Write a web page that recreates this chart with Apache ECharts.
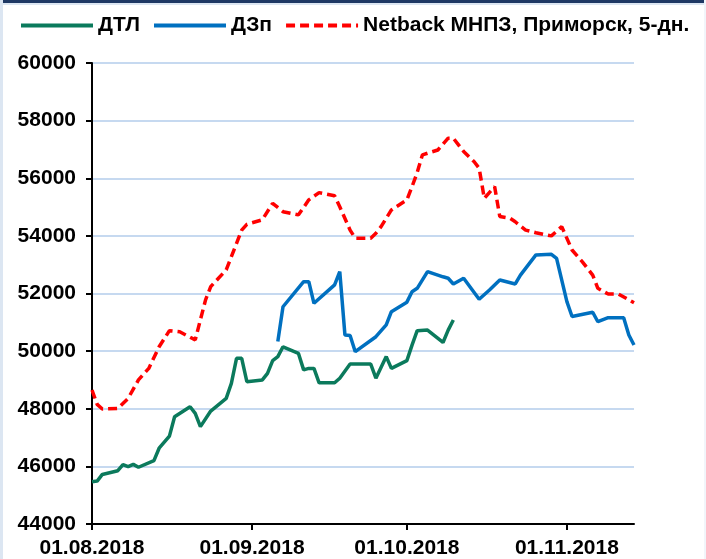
<!DOCTYPE html>
<html>
<head>
<meta charset="utf-8">
<script src="https://cdn.jsdelivr.net/npm/echarts@6/dist/echarts.min.js"></script>
<style>
  html, body { margin: 0; padding: 0; background: #fff; }
  #wrap { position: relative; width: 706px; height: 559px; overflow: hidden; }
  #chart { position: absolute; left: 0; top: 0; width: 706px; height: 559px; }
  .b { position: absolute; pointer-events: none; }
</style>
</head>
<body>
<div id="wrap">
  <div id="chart"></div>
  <div class="b" style="left:0;top:0;width:706px;height:3px;background:#1F3864;"></div>
  <div class="b" style="left:0;top:3px;width:706px;height:2px;background:#DCE6F2;"></div>
  <div class="b" style="left:0;top:0;width:3px;height:559px;background:#DCE6F2;"></div>
  <div class="b" style="left:704px;top:0;width:2px;height:559px;background:#F2F5FA;"></div>
</div>
<script>
// Series names
const seriesNames = ['ДТЛ', 'ДЗп', 'Netback МНПЗ, Приморск, 5-дн.'];

// Y axis ticks
const yTicks = [44000, 46000, 48000, 50000, 52000, 54000, 56000, 58000, 60000];

// Date range of the category axis
const startDate = '01.08.2018';
const endDate = '14.11.2018';

// ДТЛ
const dtlDates = ['01.08.2018','02.08.2018','03.08.2018','06.08.2018','07.08.2018','08.08.2018','09.08.2018','10.08.2018',
  '13.08.2018','14.08.2018','16.08.2018','17.08.2018','20.08.2018','21.08.2018','22.08.2018','24.08.2018',
  '27.08.2018','28.08.2018','29.08.2018','30.08.2018','31.08.2018','03.09.2018','04.09.2018','05.09.2018',
  '06.09.2018','07.09.2018','10.09.2018','11.09.2018','12.09.2018','13.09.2018','14.09.2018','17.09.2018',
  '18.09.2018','20.09.2018','24.09.2018','25.09.2018','27.09.2018','28.09.2018','01.10.2018','02.10.2018',
  '03.10.2018','05.10.2018','08.10.2018','09.10.2018','10.10.2018'];
const dtlValues = [45470,45490,45720,45850,46060,45990,46070,45970,
  46200,46630,47050,47720,48070,47840,47380,47920,
  48360,48880,49750,49750,48940,49000,49230,49670,
  49810,50150,49920,49350,49400,49400,48900,48900,
  49060,49550,49550,49060,49810,49400,49670,50210,
  50710,50730,50300,50730,51080];

// ДЗп
const dzpDates = ['06.09.2018','07.09.2018','11.09.2018','12.09.2018','13.09.2018','17.09.2018','18.09.2018','19.09.2018',
  '20.09.2018','21.09.2018','25.09.2018','27.09.2018','28.09.2018','01.10.2018','02.10.2018','03.10.2018',
  '05.10.2018','08.10.2018','09.10.2018','10.10.2018','12.10.2018','15.10.2018','17.10.2018','19.10.2018',
  '22.10.2018','23.10.2018','26.10.2018','29.10.2018','30.10.2018','01.11.2018','02.11.2018','06.11.2018',
  '07.11.2018','09.11.2018','12.11.2018','13.11.2018','14.11.2018'];
const dzpValues = [50330,51540,52410,52410,51660,52300,52760,50560,
  50540,49980,50500,50910,51370,51700,52060,52180,
  52760,52580,52530,52330,52530,51800,52120,52470,
  52330,52640,53340,53360,53220,51720,51200,51350,
  51020,51160,51160,50560,50210];

// Netback МНПЗ, Приморск, 5-дн.
const netDates = ['01.08.2018','02.08.2018','03.08.2018','06.08.2018','08.08.2018','10.08.2018','12.08.2018','14.08.2018',
  '16.08.2018','18.08.2018','21.08.2018','23.08.2018','24.08.2018','27.08.2018','30.08.2018','31.08.2018',
  '03.09.2018','05.09.2018','07.09.2018','10.09.2018','12.09.2018','14.09.2018','17.09.2018','18.09.2018',
  '20.09.2018','21.09.2018','24.09.2018','25.09.2018','26.09.2018','28.09.2018','01.10.2018','02.10.2018',
  '03.10.2018','04.10.2018','07.10.2018','09.10.2018','10.10.2018','12.10.2018','14.10.2018','15.10.2018',
  '16.10.2018','18.10.2018','19.10.2018','21.10.2018','22.10.2018','24.10.2018','26.10.2018','29.10.2018',
  '31.10.2018','02.11.2018','04.11.2018','06.11.2018','07.11.2018','09.11.2018','11.11.2018','14.11.2018'];
const netValues = [48650,48150,47990,48010,48360,49000,49400,50150,
  50710,50670,50390,51780,52240,52820,54200,54400,
  54560,55130,54840,54730,55250,55500,55390,55010,
  54200,53920,53920,54090,54320,54900,55250,55710,
  56200,56810,56980,57390,57390,56930,56580,56350,
  55300,55710,54670,54610,54490,54200,54110,54000,
  54320,53510,53100,52640,52180,51980,51980,51680];

function parseD(s) { const p = s.split('.'); return new Date(+p[2], +p[1] - 1, +p[0]); }
function fmtD(d) {
  const dd = String(d.getDate()).padStart(2, '0');
  const mm = String(d.getMonth() + 1).padStart(2, '0');
  return dd + '.' + mm + '.' + d.getFullYear();
}
const categories = [];
for (let d = parseD(startDate); d <= parseD(endDate); d.setDate(d.getDate() + 1)) categories.push(fmtD(d));

const pairs = (ds, vs) => ds.map((d, i) => [d, vs[i]]);
const isMonthStart = (idx) => categories[idx].slice(0, 2) === '01';

const font = 'Liberation Sans, Arial, sans-serif';
const chart = echarts.init(document.getElementById('chart'), null, { renderer: 'canvas' });
chart.setOption({
  animation: false,
  backgroundColor: '#fff',
  legend: {
    top: 10, left: 14,
    itemWidth: 72, itemHeight: 14, itemGap: 12,
    itemStyle: { opacity: 0, borderWidth: 0 },
    lineStyle: { width: 4 },
    textStyle: { fontFamily: font, fontWeight: 'bold', fontSize: 21, color: '#000' },
    data: seriesNames
  },
  grid: { left: 92, right: 72, top: 63, bottom: 35, containLabel: false, outerBoundsMode: 'none' },
  xAxis: {
    type: 'category',
    data: categories,
    boundaryGap: false,
    axisLine: { lineStyle: { color: '#000', width: 2 } },
    axisTick: { show: true, interval: (i) => isMonthStart(i), length: 6, lineStyle: { color: '#000', width: 2 } },
    axisLabel: { interval: (i) => isMonthStart(i), margin: 14, fontFamily: font, fontWeight: 'bold', fontSize: 21, color: '#000' },
    splitLine: { show: false }
  },
  yAxis: {
    type: 'value',
    min: yTicks[0], max: yTicks[yTicks.length - 1], interval: 2000,
    axisLine: { show: true, lineStyle: { color: '#000', width: 2 } },
    axisTick: { show: true, length: 6, lineStyle: { color: '#000', width: 2 } },
    axisLabel: { margin: 16, fontFamily: font, fontWeight: 'bold', fontSize: 21, color: '#000',
      formatter: (v) => String(v) },
    splitLine: { lineStyle: { color: '#C6D9F0', width: 2 } }
  },
  series: [
    { name: seriesNames[0], type: 'line', data: pairs(dtlDates, dtlValues), symbol: 'none',
      lineStyle: { color: '#0B7A5C', width: 3.5 }, itemStyle: { color: '#0B7A5C' } },
    { name: seriesNames[1], type: 'line', data: pairs(dzpDates, dzpValues), symbol: 'none',
      lineStyle: { color: '#0070C0', width: 3.5 }, itemStyle: { color: '#0070C0' } },
    { name: seriesNames[2], type: 'line', data: pairs(netDates, netValues), symbol: 'none',
      lineStyle: { color: '#FF0000', width: 3.5, type: [9, 5] }, itemStyle: { color: '#FF0000' } }
  ]
});
</script>
</body>
</html>
